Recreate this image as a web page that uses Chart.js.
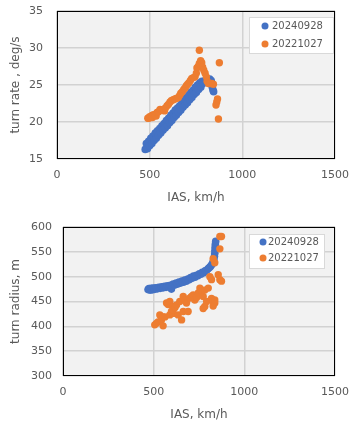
<!DOCTYPE html>
<html lang="en">
<head>
<meta charset="UTF-8">
<title>turn rate / turn radius vs IAS</title>
<script src="https://cdn.jsdelivr.net/npm/chart.js@4.4.1/dist/chart.umd.min.js"></script>
<style>
  body { margin: 0; background: #fff; }
  .panel { position: absolute; left: 0; width: 358px; }
</style>
</head>
<body>
<div class="panel" style="top:0;height:213px"><canvas id="rate" width="358" height="213"></canvas></div>
<div class="panel" style="top:213px;height:214px"><canvas id="radius" width="358" height="214"></canvas></div>
<script>
// series names
const seriesNames = ['20240928', '20221027'];

// turn rate (deg/s) vs IAS (km/h), flight 20240928
const rateIas2024 = [476,482,488,494,500,506,512,518,524,530,536,542,548,554,560,566,572,578,584,590,
  596,602,608,614,620,626,632,638,644,650,656,662,668,674,680,686,692,698,704,710,
  716,722,728,734,740,746,752,758,764,770,776,782,788,800,812,824,832,836,838,842,845];
const rate2024 = [16.3,17.1,16.4,17.4,16.8,17.8,17.1,18.1,17.5,18.5,17.8,18.8,18.2,19.1,18.5,19.5,18.9,19.8,19.2,20.2,
  19.5,20.5,19.9,20.9,20.2,21.2,20.6,21.6,20.9,21.9,21.3,22.2,21.6,22.6,22.0,22.9,22.3,23.3,22.6,23.6,
  23.0,24.0,23.3,24.3,23.7,24.7,24.0,25.0,24.4,25.3,24.7,25.5,25.2,25.6,25.8,25.8,25.6,25.2,24.7,24.3,24.1];

// turn rate (deg/s) vs IAS (km/h), flight 20221027
const rateIas2022 = [490,494,500,506,512,515,521,530,535,540,548,556,565,575,580,585,594,602,610,618,
  628,636,646,655,662,668,676,684,691,698,705,712,720,727,736,745,752,755,762,768,
  768,775,781,786,792,799,806,810,817,826,835,844,858,862,866,871,876];
const rate2022 = [20.5,20.5,20.7,20.6,20.9,20.6,21.0,21.0,20.8,21.3,21.4,21.7,21.6,21.7,21.5,21.9,22.2,22.4,22.7,22.9,
  23.0,23.1,23.2,23.3,23.6,23.9,24.1,24.4,24.6,24.9,25.1,25.3,25.6,25.9,26.0,26.1,26.6,27.3,27.5,27.9,
  29.7,28.3,28.0,27.4,27.0,26.6,26.1,25.5,25.2,25.2,25.2,25.1,22.3,22.7,23.1,20.4,28.0];

// turn radius (m) vs IAS (km/h), flight 20240928
const radiusIas2024 = [469,474,480,486,492,498,505,512,520,528,536,544,552,560,568,576,584,592,598,600,
  608,616,624,632,640,648,656,664,672,680,688,696,704,712,720,728,736,744,752,760,
  768,776,784,792,800,806,812,818,824,828,832,835,837,838,839,840,842];
const radius2024 = [474,476,473,476.5,473.5,477,474.5,477.5,475.5,478.5,476.5,479.5,477.5,480.5,478.5,481.5,479.5,482.5,475,482,
  485,483,487,485,489,487,491,489,493,491,495,494,498,497,501,499,503,502,506,505,
  509,508,512,513,516,518,520,523,526,530,535,541,547,553,559,565,571];

// turn radius (m) vs IAS (km/h), flight 20221027
const radiusIas2022 = [506,515,524,534,543,552,552,562,571,580,589,589,598,607,607,607,618,626,635,644,
  654,663,663,672,681,690,700,709,718,727,737,746,755,764,773,782,782,773,792,801,
  810,819,819,828,828,837,837,856,865,874,828,837,865,865,874];
const radius2022 = [403,406,409,423,413,401,419,419,447,444,450,423,430,440,426,433,438,443,423,450,
  413,430,460,453,447,430,457,460,463,453,458,467,477,471,460,473,440,436,450,477,
  500,494,456,449,441,447,453,504,494,491,536,528,556,581,581];

const xTicks = [0, 500, 1000, 1500];

const BLUE = '#4472C4';
const ORANGE = '#ED7D31';
const FONT = '"DejaVu Sans", sans-serif';
const GREY_TEXT = '#595959';
const GRID = '#D2D2D2';

const zip = (xs, ys) => xs.map((x, i) => ({ x: x, y: ys[i] }));

// grey plot area, black frame and a boxed legend inside the plot
const plotDecor = {
  id: 'plotDecor',
  beforeDraw(chart) {
    const a = chart.chartArea, ctx = chart.ctx;
    ctx.save();
    ctx.fillStyle = '#F2F2F2';
    ctx.fillRect(a.left, a.top, a.right - a.left, a.bottom - a.top);
    ctx.restore();
  },
  afterDraw(chart, args, opts) {
    const a = chart.chartArea, ctx = chart.ctx;
    ctx.save();
    ctx.strokeStyle = '#000';
    ctx.lineWidth = 1;
    ctx.strokeRect(Math.round(a.left) + 0.5, Math.round(a.top) + 0.5,
      Math.round(a.right - a.left) - 1, Math.round(a.bottom - a.top) - 1);

    // legend
    const L = opts.legend;
    ctx.fillStyle = '#fff';
    ctx.fillRect(L.x, L.y, L.w, L.h);
    ctx.strokeStyle = '#D9D9D9';
    ctx.strokeRect(L.x + 0.5, L.y + 0.5, L.w, L.h);
    ctx.font = '10px ' + FONT;
    ctx.textBaseline = 'middle';
    const colors = [BLUE, ORANGE];
    seriesNames.forEach((name, i) => {
      const cy = L.rows[i];
      ctx.fillStyle = colors[i];
      ctx.beginPath();
      ctx.arc(L.dotX, cy, 3.5, 0, Math.PI * 2);
      ctx.fill();
      ctx.fillStyle = GREY_TEXT;
      ctx.fillText(name, L.textX, cy + 0.5);
    });
    ctx.restore();
  }
};

function makeChart(id, d2024, d2022, yOpts, layout) {
  return new Chart(document.getElementById(id), {
    type: 'scatter',
    data: {
      datasets: [
        { label: seriesNames[0], data: d2024, backgroundColor: BLUE, borderWidth: 0, pointRadius: 3.8, order: 2 },
        { label: seriesNames[1], data: d2022, backgroundColor: ORANGE, borderWidth: 0, pointRadius: 3.7, order: 1 }
      ]
    },
    options: {
      responsive: false,
      animation: false,
      devicePixelRatio: 1,
      layout: { padding: layout.padding },
      plugins: {
        legend: { display: false },
        tooltip: { enabled: false },
        plotDecor: { legend: layout.legend }
      },
      scales: {
        x: {
          type: 'linear', min: 0, max: 1500,
          afterBuildTicks: s => { s.ticks = xTicks.map(v => ({ value: v })); },
          afterFit: s => { s.height = layout.xHeight; s.paddingLeft = 0; s.paddingRight = 0; },
          grid: { color: GRID, lineWidth: 1.5, drawTicks: false },
          border: { display: false },
          ticks: { padding: 10, color: GREY_TEXT, font: { family: FONT, size: 11 }, maxRotation: 0,
            callback: v => String(v) },
          title: { display: true, text: 'IAS, km/h', color: GREY_TEXT, font: { family: FONT, size: 12 },
            padding: { top: 0, bottom: layout.xTitlePad } }
        },
        y: {
          type: 'linear', min: yOpts.min, max: yOpts.max,
          afterBuildTicks: s => { s.ticks = yOpts.ticks.map(v => ({ value: v })); },
          afterFit: s => { s.width = layout.yWidth; s.paddingTop = 0; s.paddingBottom = 0; },
          grid: { color: GRID, lineWidth: 1.5, drawTicks: false },
          border: { display: false },
          ticks: { padding: layout.yTickPad, color: GREY_TEXT, font: { family: FONT, size: 11 },
            callback: v => String(v) },
          title: { display: true, text: yOpts.title, color: GREY_TEXT, font: { family: FONT, size: 12 },
            padding: { top: 9, bottom: 0 } }
        }
      }
    },
    plugins: [plotDecor]
  });
}

makeChart('rate', zip(rateIas2024, rate2024), zip(rateIas2022, rate2022),
  { min: 15, max: 35, ticks: [15, 20, 25, 30, 35], title: 'turn rate , deg/s' },
  {
    padding: { top: 11, right: 23, left: 0, bottom: 0 },
    xHeight: 54, yWidth: 57, yTickPad: 14, xTitlePad: 8,
    legend: { x: 249, y: 17, w: 84, h: 36, dotX: 265, textX: 272, rows: [26, 44] }
  });

makeChart('radius', zip(radiusIas2024, radius2024), zip(radiusIas2022, radius2022),
  { min: 300, max: 600, ticks: [300, 350, 400, 450, 500, 550, 600], title: 'turn radius, m' },
  {
    padding: { top: 14, right: 23, left: 0, bottom: 0 },
    xHeight: 51, yWidth: 63, yTickPad: 11, xTitlePad: 5,
    legend: { x: 249, y: 21, w: 75, h: 34, dotX: 263, textX: 268, rows: [29, 45] }
  });
</script>
</body>
</html>
